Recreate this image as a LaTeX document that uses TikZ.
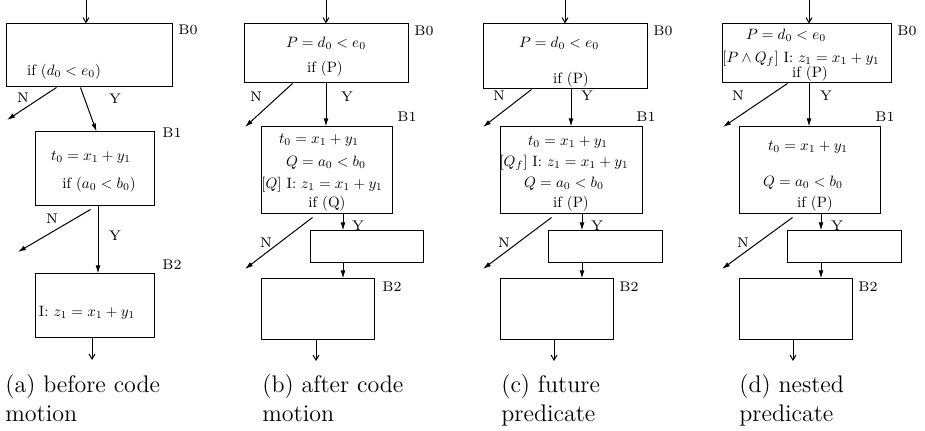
\documentclass[tikz,border=0pt]{standalone}
\usepackage{tikz}
\usetikzlibrary{arrows.meta}

\begin{document}
\begin{tikzpicture}[x=0.5pt,y=-0.5pt]
                        \tikzstyle{blk}=[draw, line width=0.5pt, inner sep=0pt]
                        \tikzstyle{txt}=[inner sep=0pt, scale=0.75, transform shape]
                        \tikzstyle{lbl}=[inner sep=0pt, font=\fontsize{7}{8.4}\selectfont, anchor=west]
                        \tikzstyle{yn}=[inner sep=0pt, font=\fontsize{7}{8.4}\selectfont]
                        \tikzstyle{capt}=[inner sep=0pt, font=\fontsize{12}{14.5}\selectfont, anchor=base west]
                        \tikzstyle{edge}=[line width=0.5pt, -{Latex[length=4pt,width=2.4pt]}]
                        \tikzstyle{flow}=[line width=0.5pt, -{Straight Barb[length=2.5pt,width=3pt]}]
                        \useasboundingbox (0,0) rectangle (925,431);

                        % (a)
                        \node[blk, minimum width=83pt, minimum height=31.5pt] (a0) at (89,55.5) {};
                        \node[blk, minimum width=59.5pt, minimum height=37pt] (a1) at (94.5,169) {};
                        \node[blk, minimum width=59.5pt, minimum height=32pt] (a2) at (94.5,306) {};
                        \coordinate (a-in) at (86,0);
                        \coordinate (a-y) at (98,0);
                        \coordinate (a-out) at (92,360);
                        \coordinate (a0-n) at (7,120);
                        \coordinate (a1-n) at (18,252);
                        \node[lbl] (a0-b) at (178,30) {B0};
                        \node[lbl] (a1-b) at (162,133) {B1};
                        \node[lbl] (a2-b) at (162,265) {B2};
                        \node[txt] (a0-t1) at (64,72) {if $(d_0<e_0)$};
                        \node[txt] (a1-t1) at (91,157) {$t_0=x_1+y_1$};
                        \node[txt] (a1-t2) at (99,185) {if $(a_0<b_0)$};
                        \node[txt] (a2-t1) at (87,313) {I: $z_1=x_1+y_1$};
                        \draw[flow] (a-in) -- (a-in |- a0.north);
                        \draw[edge] ([xshift=25.5pt]a0.south west) -- (a0-n);
                        \draw[edge] ([xshift=37.5pt]a0.south west) -- ([xshift=31pt]a1.north west);
                        \draw[edge] ([xshift=28pt,yshift=-1.5pt]a1.south west) -- (a1-n);
                        \draw[edge] (a-y |- a1.south) -- (a-y |- a2.north);
                        \draw[flow] (a-out |- a2.south) -- (a-out);
                        \node[yn] (a0-nl) at (23,98) {N};
                        \node[yn] (a0-yl) at (115,99) {Y};
                        \node[yn] (a1-nl) at (52,219) {N};
                        \node[yn] (a1-yl) at (115,236) {Y};
                        \node[capt] (a-c1) at (5,393) {(a) before code};
                        \node[capt] (a-c2) at (5,422) {motion};

                        % (b)
                        \node[blk, minimum width=82pt, minimum height=29.5pt] (b0) at (326,53.5) {};
                        \node[blk, minimum width=65.5pt, minimum height=43.5pt] (b1) at (326.5,170.5) {};
                        \node[blk, minimum width=56.5pt, minimum height=16pt] (be) at (366.5,247) {};
                        \node[blk, minimum width=56.5pt, minimum height=30.5pt] (b2) at (317.5,309.5) {};
                        \coordinate (b-in) at (326,0);
                        \coordinate (b-y) at (343,0);
                        \coordinate (b-out) at (316,361);
                        \coordinate (b0-n) at (245,127);
                        \coordinate (b1-n) at (245,269);
                        \node[lbl] (b0-b) at (414,31) {B0};
                        \node[lbl] (b1-b) at (397,117) {B1};
                        \node[lbl] (b2-b) at (382,287) {B2};
                        \node[txt] (b0-t1) at (326,43) {$P=d_0<e_0$};
                        \node[txt] (b0-t2) at (325,69) {if (P)};
                        \node[txt] (b1-t1) at (319,140) {$t_0=x_1+y_1$};
                        \node[txt] (b1-t2) at (326,163) {$Q=a_0<b_0$};
                        \node[txt] (b1-t3) at (322,185) {$[Q]$ I: $z_1=x_1+y_1$};
                        \node[txt] (b1-t4) at (327,204) {if (Q)};
                        \draw[flow] (b-in) -- (b-in |- b0.north);
                        \draw[edge] ([xshift=24.5pt]b0.south west) -- (b0-n);
                        \draw[edge] (b-in |- b0.south) -- (b-in |- b1.north);
                        \draw[edge] ([xshift=26pt,yshift=-1.5pt]b1.south west) -- (b1-n);
                        \draw[edge] (b-y |- b1.south) -- (b-y |- be.north);
                        \draw[edge] (b-y |- be.south) -- (b-y |- b2.north);
                        \draw[flow] (b-out |- b2.south) -- (b-out);
                        \node[yn] (b0-nl) at (256,97) {N};
                        \node[yn] (b0-yl) at (347,97) {Y};
                        \node[yn] (b1-nl) at (266,243) {N};
                        \node[yn] (b1-yl) at (358,226) {Y};
                        \node[capt] (b-c1) at (262,393) {(b) after code};
                        \node[capt] (b-c2) at (262,422) {motion};

                        % (c)
                        \node[blk, minimum width=82pt, minimum height=32.5pt] (c0) at (565,56.5) {};
                        \node[blk, minimum width=71pt, minimum height=43.5pt] (c1) at (571,170.5) {};
                        \node[blk, minimum width=57pt, minimum height=16pt] (ce) at (605,247) {};
                        \node[blk, minimum width=56.5pt, minimum height=30.5pt] (c2) at (556.5,309.5) {};
                        \coordinate (c-in) at (565,0);
                        \coordinate (c-x) at (571,0);
                        \coordinate (c-y) at (582,0);
                        \coordinate (c-out) at (554,361);
                        \coordinate (c0-n) at (483,127);
                        \coordinate (c1-n) at (483,269);
                        \node[lbl] (c0-b) at (653,31) {B0};
                        \node[lbl] (c1-b) at (636,117) {B1};
                        \node[lbl] (c2-b) at (619,287) {B2};
                        \node[txt] (c0-t1) at (559,43) {$P=d_0<e_0$};
                        \node[txt] (c0-t2) at (571,80) {if (P)};
                        \node[txt] (c1-t1) at (568,142) {$t_0=x_1+y_1$};
                        \node[txt] (c1-t2) at (564,163) {$[Q_f]$ I: $z_1=x_1+y_1$};
                        \node[txt] (c1-t3) at (564,184) {$Q=a_0<b_0$};
                        \node[txt] (c1-t4) at (571,204) {if (P)};
                        \draw[flow] (c-in) -- (c-in |- c0.north);
                        \draw[edge] ([xshift=24.5pt]c0.south west) -- (c0-n);
                        \draw[edge] (c-x |- c0.south) -- (c-x |- c1.north);
                        \draw[edge] ([xshift=26pt,yshift=-1.5pt]c1.south west) -- (c1-n);
                        \draw[edge] (c-y |- c1.south) -- (c-y |- ce.north);
                        \draw[edge] (c-y |- ce.south) -- (c-y |- c2.north);
                        \draw[flow] (c-out |- c2.south) -- (c-out);
                        \node[yn] (c0-nl) at (499,96) {N};
                        \node[yn] (c0-yl) at (587,96) {Y};
                        \node[yn] (c1-nl) at (504,243) {N};
                        \node[yn] (c1-yl) at (597,226) {Y};
                        \node[capt] (c-c1) at (501,393) {(c) future};
                        \node[capt] (c-c2) at (501,422) {predicate};

                        % (d)
                        \node[blk, minimum width=84.5pt, minimum height=29.5pt] (d0) at (806.5,53.5) {};
                        \node[blk, minimum width=70.5pt, minimum height=43.5pt] (d1) at (809.5,170.5) {};
                        \node[blk, minimum width=57pt, minimum height=16pt] (de) at (844,247) {};
                        \node[blk, minimum width=56.5pt, minimum height=30.5pt] (d2) at (795.5,309.5) {};
                        \coordinate (d-in) at (809,0);
                        \coordinate (d-y) at (821,0);
                        \coordinate (d-out) at (793,361);
                        \coordinate (d0-n) at (723,127);
                        \coordinate (d1-n) at (722,269);
                        \node[lbl] (d0-b) at (897,31) {B0};
                        \node[lbl] (d1-b) at (875,117) {B1};
                        \node[lbl] (d2-b) at (858,287) {B2};
                        \node[txt] (d0-t1) at (786,35) {$P=d_0<e_0$};
                        \node[txt] (d0-t2) at (801,59) {$[P\wedge Q_f]$ I: $z_1=x_1+y_1$};
                        \node[txt] (d0-t3) at (810,74) {if (P)};
                        \node[txt] (d1-t1) at (808,147) {$t_0=x_1+y_1$};
                        \node[txt] (d1-t2) at (803,183) {$Q=a_0<b_0$};
                        \node[txt] (d1-t3) at (815,204) {if (P)};
                        \draw[flow] (d-in) -- (d-in |- d0.north);
                        \draw[edge] ([xshift=33pt]d0.south west) -- (d0-n);
                        \draw[edge] (d-in |- d0.south) -- (d-in |- d1.north);
                        \draw[edge] ([xshift=27pt,yshift=-1.5pt]d1.south west) -- (d1-n);
                        \draw[edge] (d-y |- d1.south) -- (d-y |- de.north);
                        \draw[edge] (d-y |- de.south) -- (d-y |- d2.north);
                        \draw[flow] (d-out |- d2.south) -- (d-out);
                        \node[yn] (d0-nl) at (738,96) {N};
                        \node[yn] (d0-yl) at (826,96) {Y};
                        \node[yn] (d1-nl) at (743,243) {N};
                        \node[yn] (d1-yl) at (837,226) {Y};
                        \node[capt] (d-c1) at (739,393) {(d) nested};
                        \node[capt] (d-c2) at (739,422) {predicate};
                    \end{tikzpicture}
\end{document}
